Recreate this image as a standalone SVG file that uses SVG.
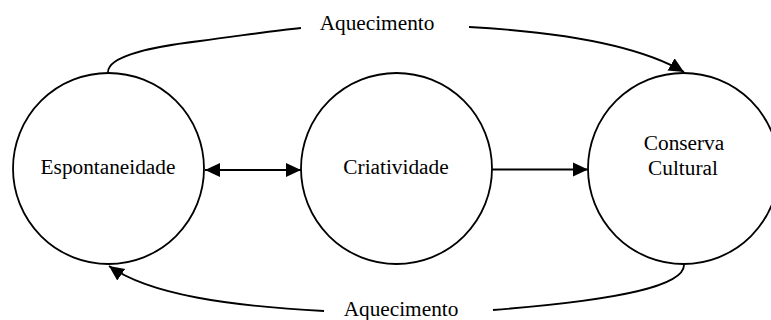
<svg xmlns="http://www.w3.org/2000/svg" width="771" height="320" viewBox="0 0 771 320">
<style>
.node{fill:#fff;stroke:#000;stroke-width:1.8}
.lbl{font-family:"Liberation Serif","Times New Roman",serif;font-size:21.3px;fill:#000;text-anchor:middle}
.edge{fill:none;stroke:#000;stroke-width:1.8}
</style>
<defs>
<marker id="ah" markerUnits="userSpaceOnUse" markerWidth="16" markerHeight="16" viewBox="0 0 16 16" refX="15" refY="8" orient="auto-start-reverse">
<path d="M0,1 L15,8 L0,15 Z" fill="#000"/>
</marker>
</defs>
<rect width="771" height="320" fill="#fff"/>
<g id="connectors">
<path class="edge" d="M108,72 C108,56 150,47 200,41 C240,36 270,31 301,28"/>
<path class="edge" d="M469,27 C560,32 640,46 684,72" marker-end="url(#ah)"/>
<path class="edge" d="M684,265 C684,286 620,300 493,310"/>
<path class="edge" d="M324,311 C230,306 150,295 109,266" marker-end="url(#ah)"/>
<path class="edge" d="M205,170 L301,170" marker-start="url(#ah)" marker-end="url(#ah)"/>
<path class="edge" d="M492,169.5 L588,169.5" marker-end="url(#ah)"/>
</g>
<g id="label-top"><text class="lbl" x="377" y="30">Aquecimento</text></g>
<g id="label-bottom"><text class="lbl" x="401" y="315.5">Aquecimento</text></g>
<g id="espontaneidade">
<circle class="node" cx="108.5" cy="168.5" r="95.5"/>
<text class="lbl" x="108" y="174">Espontaneidade</text>
</g>
<g id="criatividade">
<circle class="node" cx="396.5" cy="168.5" r="95.5"/>
<text class="lbl" x="396" y="174">Criatividade</text>
</g>
<g id="conserva">
<circle class="node" cx="683.5" cy="168.5" r="95.5"/>
<text class="lbl" x="684" y="150">Conserva</text>
<text class="lbl" x="683" y="175">Cultural</text>
</g>
</svg>
